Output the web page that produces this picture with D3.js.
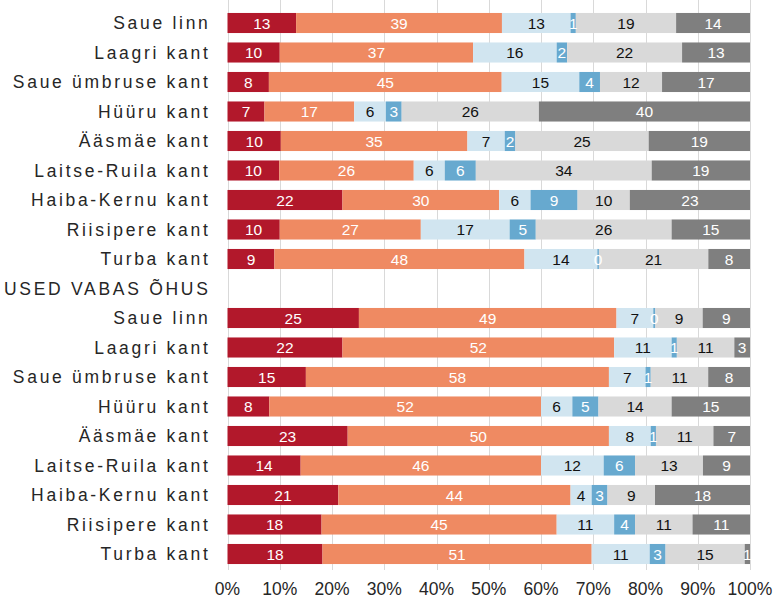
<!DOCTYPE html>
<html>
<head>
<meta charset="utf-8">
<script src="https://cdn.jsdelivr.net/npm/d3@7"></script>
<style>
  body { margin: 0; background: #fff; }
  svg { display: block; font-family: "Liberation Sans", Arial, sans-serif; }
</style>
</head>
<body>
<svg id="chart" width="774" height="600"></svg>
<script>
// Rows, top to bottom (headers are empty rows with a label only);
const rows = [
  'hdr1',
  'a:Saue linn', 'a:Laagri kant', 'a:Saue ümbruse kant', 'a:Hüüru kant', 'a:Ääsmäe kant',
  'a:Laitse-Ruila kant', 'a:Haiba-Kernu kant', 'a:Riisipere kant', 'a:Turba kant',
  'hdr2',
  'b:Saue linn', 'b:Laagri kant', 'b:Saue ümbruse kant', 'b:Hüüru kant', 'b:Ääsmäe kant',
  'b:Laitse-Ruila kant', 'b:Haiba-Kernu kant', 'b:Riisipere kant', 'b:Turba kant'
];
const headers = { hdr1: '', hdr2: 'USED VABAS ÕHUS' };

// Series values per row (same order as rows, headers skipped);
const s1 = [13, 10, 8, 7, 10, 10, 22, 10, 9,    25, 22, 15, 8, 23, 14, 21, 18, 18];
const s2 = [39, 37, 45, 17, 35, 26, 30, 27, 48, 49, 52, 58, 52, 50, 46, 44, 45, 51];
const s3 = [13, 16, 15, 6, 7, 6, 6, 17, 14,     7, 11, 7, 6, 8, 12, 4, 11, 11];
const s4 = [1, 2, 4, 3, 2, 6, 9, 5, 0.3,        0.4, 1, 1, 5, 1, 6, 3, 4, 3];
const s5 = [19, 22, 12, 26, 25, 34, 10, 26, 21, 9, 11, 11, 14, 11, 13, 9, 11, 15];
const s6 = [14, 13, 17, 40, 19, 19, 23, 15, 8,  9, 3, 8, 15, 7, 9, 18, 11, 1];

const series = [s1, s2, s3, s4, s5, s6];
const colors = ['#b2182b', '#ef8a62', '#d1e5f0', '#67a9cf', '#d9d9d9', '#7f7f7f'];
const textColors = ['#fff', '#fff', '#111', '#fff', '#111', '#fff'];
const xTicks = [0, 0.1, 0.2, 0.3, 0.4, 0.5, 0.6, 0.7, 0.8, 0.9, 1];

const svg = d3.select('#chart');

const x = d3.scaleLinear().domain([0, 1]).range([227.5, 750]);
const y = d3.scaleBand().domain(rows).range([-21.25, 568.75]).paddingInner(0.32).paddingOuter(0.16);

// Gridlines + ticks;
svg.append('g')
  .selectAll('line')
  .data(xTicks)
  .join('line')
  .attr('x1', d => Math.round(x(d)) + 0.5)
  .attr('x2', d => Math.round(x(d)) + 0.5)
  .attr('y1', 0)
  .attr('y2', 570)
  .attr('stroke', '#d9d9d9')
  .attr('stroke-width', 1);

// Tick labels;
svg.append('g')
  .selectAll('text')
  .data(xTicks)
  .join('text')
  .attr('x', d => x(d))
  .attr('y', 595)
  .attr('text-anchor', 'middle')
  .attr('font-size', 17.5)
  .attr('fill', '#262626')
  .text(d => Math.round(d * 100) + '%');

// Build stacked rows;
const dataRows = rows.filter(r => !r.startsWith('hdr')).map((r, i) => {
  const vals = series.map(s => s[i]);
  const total = d3.sum(vals);
  let acc = 0;
  return vals.map((v, k) => {
    const seg = { key: r, k: k, v: v, x0: acc / total, x1: (acc + v) / total };
    acc += v;
    return seg;
  });
});
const segs = dataRows.flat();

const bars = svg.append('g');
bars.selectAll('rect')
  .data(segs)
  .join('rect')
  .attr('x', d => x(d.x0))
  .attr('width', d => Math.max(0, x(d.x1) - x(d.x0)))
  .attr('y', d => y(d.key))
  .attr('height', y.bandwidth())
  .attr('fill', d => colors[d.k]);

bars.selectAll('text')
  .data(segs)
  .join('text')
  .attr('x', d => (x(d.x0) + x(d.x1)) / 2)
  .attr('y', d => y(d.key) + y.bandwidth() / 2)
  .attr('dy', '0.36em')
  .attr('text-anchor', 'middle')
  .attr('font-size', 15.5)
  .attr('fill', d => textColors[d.k])
  .text(d => Math.round(d.v));

// Category labels;
svg.append('g')
  .selectAll('text')
  .data(rows)
  .join('text')
  .attr('x', 210.5)
  .attr('y', d => y(d) + y.bandwidth() / 2)
  .attr('dy', '0.36em')
  .attr('text-anchor', 'end')
  .attr('font-size', 17.5)
  .attr('letter-spacing', '2.7px')
  .attr('fill', '#262626')
  .text(d => d.startsWith('hdr') ? headers[d] : d.slice(2));
</script>
</body>
</html>
